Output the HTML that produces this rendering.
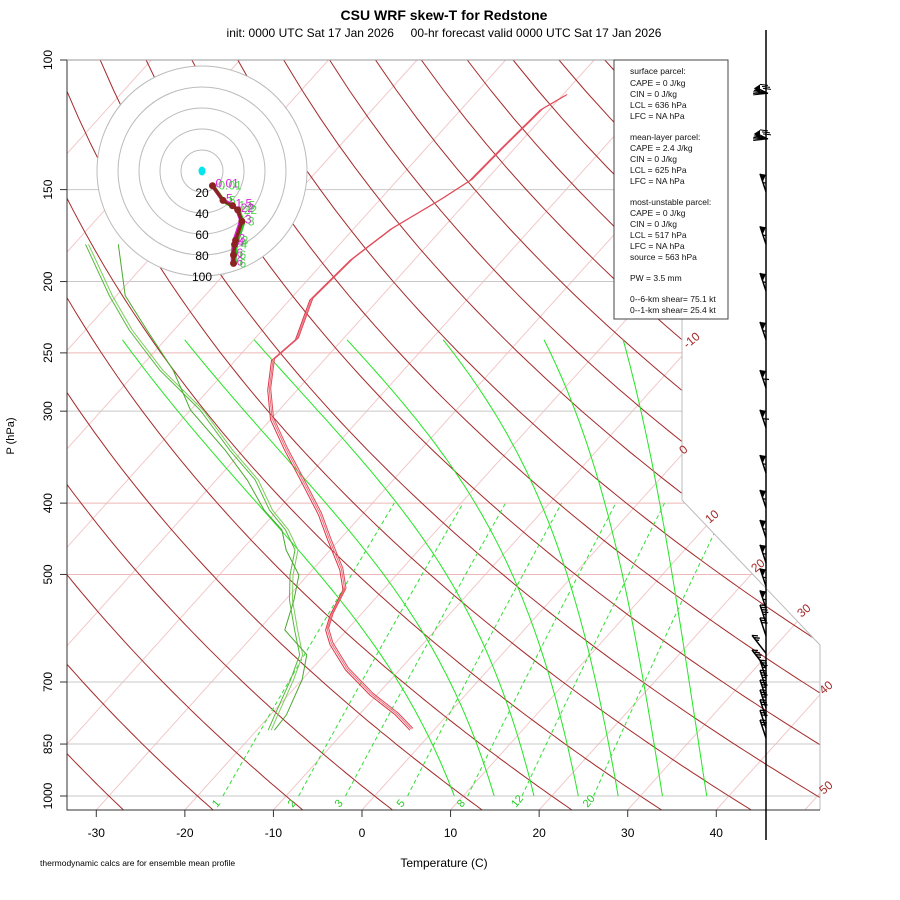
<!DOCTYPE html>
<html><head><meta charset="utf-8"><style>
html,body{margin:0;padding:0;background:#fff}
svg{display:block;font-family:"Liberation Sans",sans-serif}
</style></head><body>
<svg id="c" width="900" height="900" viewBox="0 0 900 900">
<defs><clipPath id="clip"><polygon points="67,60 682,60 682,500 820,645 820,810 67,810"/></clipPath></defs>
<text x="444" y="20" text-anchor="middle" font-size="14" font-weight="bold">CSU WRF skew-T for Redstone</text>
<text x="444" y="37" text-anchor="middle" font-size="12">init: 0000 UTC Sat 17 Jan 2026&#160;&#160;&#160;&#160;&#160;00-hr forecast valid 0000 UTC Sat 17 Jan 2026</text>
<g id="grid" clip-path="url(#clip)"></g>
<g id="prof" clip-path="url(#clip)"></g>
<g id="axes"></g>
<g id="hodo"></g>
<g id="barbs"></g>
<g id="info">
<rect x="614" y="60" width="114" height="259" fill="#fff" stroke="#444" stroke-width="1"/>
<text font-size="8.5" fill="#111">
<tspan x="630" y="74">surface parcel:</tspan><tspan x="630" y="86">CAPE = 0 J/kg</tspan><tspan x="630" y="97">CIN = 0 J/kg</tspan><tspan x="630" y="108">LCL = 636 hPa</tspan><tspan x="630" y="119">LFC = NA hPa</tspan>
<tspan x="630" y="140">mean-layer parcel:</tspan><tspan x="630" y="151">CAPE = 2.4 J/kg</tspan><tspan x="630" y="162">CIN = 0 J/kg</tspan><tspan x="630" y="173">LCL = 625 hPa</tspan><tspan x="630" y="184">LFC = NA hPa</tspan>
<tspan x="630" y="205">most-unstable parcel:</tspan><tspan x="630" y="216">CAPE = 0 J/kg</tspan><tspan x="630" y="227">CIN = 0 J/kg</tspan><tspan x="630" y="238">LCL = 517 hPa</tspan><tspan x="630" y="249">LFC = NA hPa</tspan><tspan x="630" y="260">source = 563 hPa</tspan>
<tspan x="630" y="281">PW =  3.5 mm</tspan>
<tspan x="630" y="302">0--6-km shear= 75.1 kt</tspan><tspan x="630" y="313">0--1-km shear= 25.4 kt</tspan>
</text></g>
<text x="40" y="866" font-size="8.5">thermodynamic calcs are for ensemble mean profile</text>
<text x="444" y="867" text-anchor="middle" font-size="12">Temperature (C)</text>
<text x="14" y="436" text-anchor="middle" font-size="11" transform="rotate(-90 14 436)">P (hPa)</text>
</svg>
<script>
// ---- data ----
const pressureTicks=[100,150,200,250,300,400,500,700,850,1000];
const tempTicks=[-30,-20,-10,0,10,20,30,40];
const mixRatios=[1,2,3,5,8,12,20];
const moistThetaW=[9,13.5,18,23,27.5,32.5,37.5];
const tempP=[814,776,729,674,623,595,568,525,493,449,415,372,339,308,281,256,240,212,187,170,155,146,132,117,112];
const tempT=[-2.7,-5.9,-10.8,-16.1,-20.4,-22.4,-23.4,-24.5,-26.9,-31.3,-34.9,-40.5,-45.3,-50.0,-53.3,-55.9,-55.3,-57.7,-57.2,-55.8,-53.2,-51.8,-51.5,-51.0,-49.7];
const dewP=[814,776,695,643,595,542,501,463,435,409,372,339,299,264,233,209,178];
const dewT=[-18.7,-19.5,-21.3,-22.8,-25.9,-29.5,-32.0,-34.0,-37.1,-40.9,-45.6,-51.5,-58.9,-67.5,-75.0,-80.8,-88.7];
const dew2T=[-18.0,-18.2,-20.0,-22.0,-27.0,-29.0,-31.0,-35.0,-37.5,-41.5,-46.5,-52.0,-60.0,-66.0,-73.0,-79.0,-85.0];
const hodoU=[10,20,29,34,38,32,31,30,30];
const hodoV=[-14,-28,-33,-37,-48,-66,-70,-80,-88];
const hodoRings=[20,40,60,80,100];
const barbP=[111,128,151,178,206,240,279,316,364,406,446,482,519,556,582,606,640,670,692,714,736,759,783,809,834];
const barbKt=[75,75,55,55,55,55,60,60,55,55,55,55,55,55,45,30,25,35,35,35,35,35,30,30,25];
// ---- scales ----
const NS='http://www.w3.org/2000/svg';
const yP=p=>796-736*Math.log10(1000/p);
const xT=(T,y)=>362+8.857*T+0.9*(810-y);
function mk(tag,attrs,parent){const e=document.createElementNS(NS,tag);for(const k in attrs)e.setAttribute(k,attrs[k]);parent.appendChild(e);return e;}
const grid=document.getElementById('grid'),prof=document.getElementById('prof'),axes=document.getElementById('axes'),hodo=document.getElementById('hodo'),barbs=document.getElementById('barbs');
function pathPT(ps,ts){return ps.map((p,i)=>{const y=yP(p);return (i?'L':'M')+xT(ts[i],y).toFixed(1)+','+y.toFixed(1);}).join('');}
// isotherms
for(let T=-140;T<=50;T+=10){
 const l=mk('line',{x1:xT(T,810),y1:810,x2:xT(T,60),y2:60,stroke:'#f2c8c8','stroke-width':1},grid);
 
 
}
// isobars
pressureTicks.forEach(p=>{const y=yP(p);
 const l=mk('line',{x1:67,y1:y,x2:820,y2:y,stroke:([250,400,500].includes(p)?'#efb8b8':'#c8c8c8'),'stroke-width':1},grid);
 
 
});
// dry adiabats
const ps=[];for(let p=1060;p>=100;p-=10)ps.push(p);
for(let th=-40;th<=200;th+=10){
 const thK=th+273.15;
 const d=pathPT(ps,ps.map(p=>thK*Math.pow(p/1000,0.2857)-273.15));
 const e=mk('path',{d:d,fill:'none',stroke:'#a52a2a','stroke-width':1},grid);
 
 
}
// moist adiabats
function es(T){return 6.112*Math.exp(17.67*T/(T+243.5));}
moistThetaW.forEach(tw=>{
 let T=tw+273.15,p=1000;const pp=[p],tt=[tw];
 const corr=1+0.2*tw+Math.max(0,0.27*(tw-15));
 while(p>240){const dp=-5;const e=es(T-273.15);const rs=0.622*e/(p-e);const Lv=2.5e6,Rd=287,cp=1004;
  const dTdp=(Rd*T+Lv*rs)/(p*(cp+Lv*Lv*rs*0.622/(Rd*T*T)));T+=dTdp*dp;p+=dp;pp.push(p);
  tt.push(T-273.15-corr*Math.log10(1000/p)/0.62);}
 const e=mk('path',{d:pathPT(pp,tt),fill:'none',stroke:'#22e622','stroke-width':1},grid);
 
 
});
// mixing ratio lines
mixRatios.forEach(w=>{
 const pp=[],tt=[];for(let p=1000;p>=400;p-=20){const e=w*p/(622+w);const L=Math.log(e/6.112);pp.push(p);tt.push(243.5*L/(17.67-L));}
 const e=mk('path',{d:pathPT(pp,tt),fill:'none',stroke:'#33dd33','stroke-width':1,'stroke-dasharray':'4,3'},grid);
 
 
 const x=xT(tt[0],796)-6;
 const t=mk('text',{x:x,y:808,fill:'#22cc22','font-size':11,transform:'rotate(-50 '+x+' 808)'},axes);t.textContent=w;
 
 
});
// profiles
[[0,'#dc3545'],[1.6,'#ea7080'],[3,'#e04a58']].forEach(([o,c])=>{
 const e=mk('path',{d:pathPT(tempP,tempT),transform:'translate('+o+','+(-o*0.6)+')',fill:'none',stroke:c,'stroke-width':1},prof);
 
 
});
[[0,'#55b83c',dewT],[3,'#7ccd5c',dewT],[0,'#4aa830',dew2T]].forEach(([o,c,arr])=>{
 const e=mk('path',{d:pathPT(dewP,arr),transform:'translate('+o+',0)',fill:'none',stroke:c,'stroke-width':1},prof);
 
 
});
// boundary & frame
const b=mk('polyline',{points:'682,60 682,500 820,645 820,810',fill:'none',stroke:'#bbb','stroke-width':1},axes);


const fr=mk('path',{d:'M67,60V810H820',fill:'none',stroke:'#333','stroke-width':1},axes);


mk('line',{x1:67,y1:60,x2:682,y2:60,stroke:'#999','stroke-width':1},axes);
pressureTicks.forEach(p=>{const y=yP(p);
 mk('line',{x1:60,y1:y,x2:67,y2:y,stroke:'#333'},axes);
 const t=mk('text',{x:52,y:y,'font-size':12,'text-anchor':'middle',transform:'rotate(-90 52 '+y+')'},axes);t.textContent=p;
 
 
});
tempTicks.forEach(T=>{const x=xT(T,810);
 mk('line',{x1:x,y1:810,x2:x,y2:817,stroke:'#333'},axes);
 const t=mk('text',{x:x,y:837,'font-size':12,'text-anchor':'middle'},axes);t.textContent=T;
 
 
});
[['-10',692,345],['0',688,451],['10',714,520],['20',760,569],['30',806,614],['40',828,691],['50',828,791]].forEach(([s,x,y])=>{
 const t=mk('text',{x:x-6,y:y,'font-size':12,fill:'#a52a2a',transform:'rotate(-40 '+x+' '+y+')'},axes);t.textContent=s;
 
 
});
// hodograph
const cx=202,cy=171,k=1.05;
mk('circle',{cx:cx,cy:cy,r:100*k,fill:'#fff',stroke:'none'},hodo);
hodoRings.forEach(r=>{const c=mk('circle',{cx:cx,cy:cy,r:r*k,fill:'none',stroke:'#bbb'},hodo);
 
 
 const t=mk('text',{x:cx,y:cy+r*k+5,'font-size':12,'text-anchor':'middle',fill:'#000'},hodo);t.textContent=r;
 
 
});
mk('ellipse',{cx:cx,cy:cy,rx:3.5,ry:4.5,fill:'#00e5ee'},hodo);
const hp=hodoU.map((u,i)=>[cx+u*k,cy-hodoV[i]*k]);
[[1.5,'#22cc22'],[-1,'#dd22dd'],[0,'#8b2323']].forEach(([o,c])=>{
 const e=mk('polyline',{points:hp.map(q=>(q[0]+o)+','+(q[1]+o)).join(' '),fill:'none',stroke:c,'stroke-width':3.5,'stroke-linejoin':'round'},hodo);
 
 
});
const hlab=['0.01','5','1.5','22','3','3','4','6','6'];
hp.forEach((q,i)=>{const d=mk('circle',{cx:q[0],cy:q[1],r:3.5,fill:'#8b2323'},hodo);
 
 
 const t=mk('text',{x:q[0]+3,y:q[1]+2,'font-size':12,fill:'#dd22dd'},hodo);t.textContent=hlab[i];
 
 
 const t2=mk('text',{x:q[0]+6,y:q[1]+4,'font-size':12,fill:'#22cc22','fill-opacity':0.8},hodo);t2.textContent=hlab[i];
 
 
});
// wind barbs
const bl=mk('line',{x1:766,y1:30,x2:766,y2:840,stroke:'#000','stroke-width':1.5},barbs);


barbP.forEach((p,i)=>{const y=yP(p);const g=mk('g',{},barbs);
 
 
 if(i<2){
  for(let j=0;j<6;j++){const a=(140+j*10)*Math.PI/180;
   mk('line',{x1:768,y1:y,x2:768+15*Math.cos(a),y2:y-15*Math.sin(a)*0.6,stroke:'#000','stroke-width':1},g);}
  mk('polygon',{points:'754,'+(y-5)+' 760,'+(y-9)+' 760,'+(y+1),fill:'#000'},g);
  mk('path',{d:'M760,'+(y-9)+' L768,'+(y-8)+' M762,'+(y-7)+' L770,'+(y-6)+' M763,'+(y-5)+' L771,'+(y-4),stroke:'#000','stroke-width':1,fill:'none'},g);
  return;
 }
 const lean=i>15&&i<18?14:6;
 const ex=766-lean,ey=y-18;
 mk('line',{x1:766,y1:y,x2:ex,y2:ey,stroke:'#000','stroke-width':1.5},g);
 let kt=barbKt[i];
 const px=t=>766+(ex-766)*t, py=t=>y+(ey-y)*t;
 let pos=1;
 while(kt>=50){mk('polygon',{points:px(pos)+','+py(pos)+' '+(px(pos)+6)+','+(py(pos)+1)+' '+px(pos-0.45)+','+py(pos-0.45),fill:'#000'},g);kt-=50;pos-=0.5;}
 while(kt>=10){mk('line',{x1:px(pos),y1:py(pos),x2:px(pos)+6,y2:py(pos)+0.5,stroke:'#000','stroke-width':1.3},g);kt-=10;pos-=0.13;}
 if(kt>=5){mk('line',{x1:px(pos),y1:py(pos),x2:px(pos)+3.5,y2:py(pos)+0.3,stroke:'#000','stroke-width':1.3},g);}
});
</script>
</body></html>
